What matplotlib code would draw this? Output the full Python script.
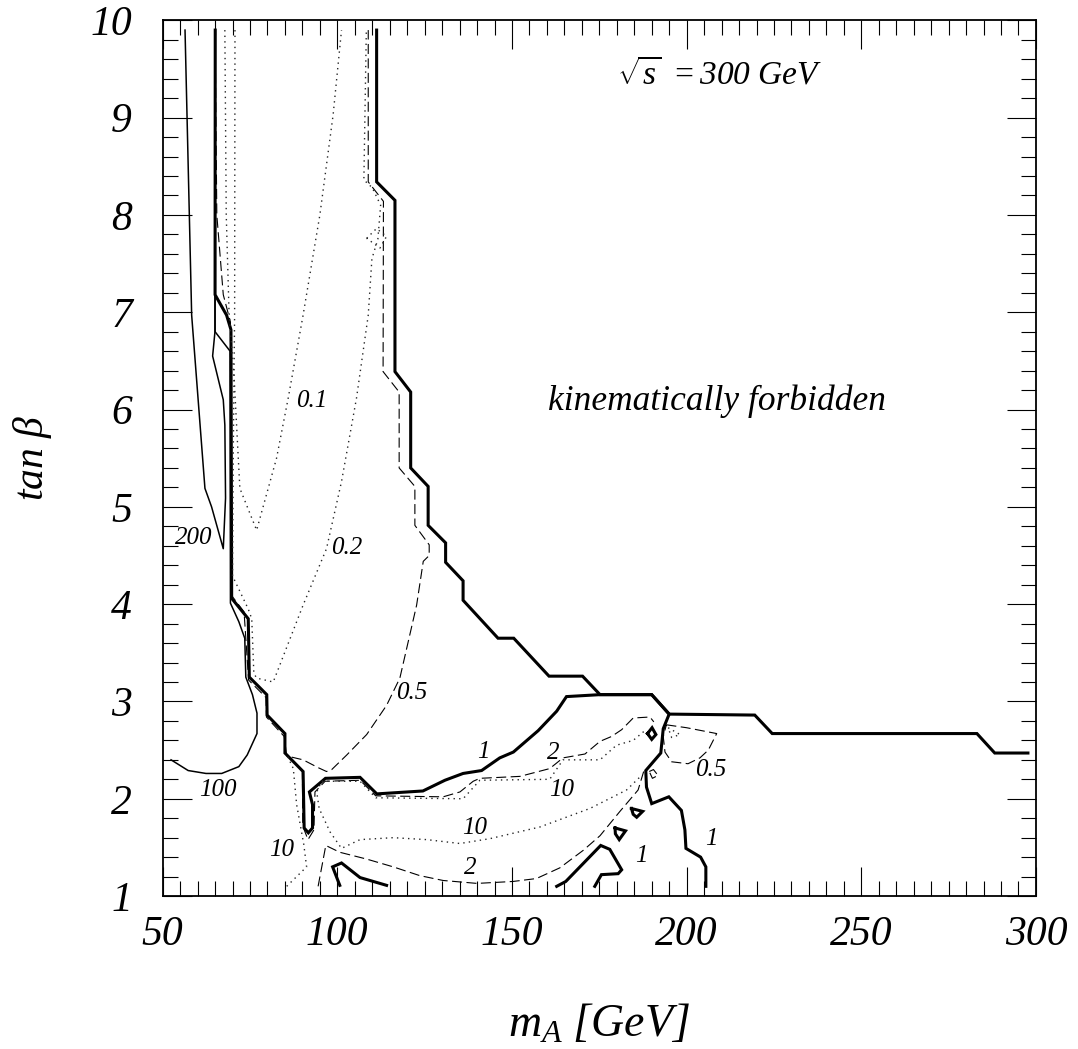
import numpy as np
import matplotlib.pyplot as plt
from matplotlib.ticker import MultipleLocator

plt.rcParams['font.family'] = 'Liberation Serif'
plt.rcParams['font.style'] = 'italic'
plt.rcParams['mathtext.fontset'] = 'custom'
plt.rcParams['mathtext.it'] = 'Liberation Serif:italic'
plt.rcParams['mathtext.rm'] = 'Liberation Serif'

# =============================================================================
# contour paths  (m_A [GeV], tan beta)
# =============================================================================
# sigma = 1 (thick)
c1_x = [65.05, 65.0, 68.3, 69.55, 69.75, 74.5, 74.8, 79.8, 79.9, 85.0, 85.0, 90.2,
        90.5, 91.7, 92.9, 92.9, 92.0, 96.6, 106.5, 111.3, 124.5, 130.8, 136.0, 141.3,
        146.5, 150.4, 157.5, 162.8, 165.6, 175.2, 190.0, 195.0, 193.3, 192.6, 188.3,
        188.5, 190.0, 194.9, 198.5, 199.5, 199.8, 204.0, 205.5, 205.5]
c1_y = [9.90, 7.18, 6.97, 6.82, 4.06, 3.85, 3.25, 3.07, 2.86, 2.67, 2.47, 2.28,
        1.70, 1.65, 1.70, 1.94, 2.07, 2.21, 2.22, 2.05, 2.08, 2.19, 2.26, 2.29,
        2.42, 2.48, 2.70, 2.90, 3.05, 3.07, 3.07, 2.87, 2.72, 2.47, 2.29,
        2.12, 1.95, 2.02, 1.88, 1.68, 1.49, 1.40, 1.30, 1.10]
c1b_x = [100.7, 98.65, 101.2, 106.5, 114.1]
c1b_y = [1.11, 1.30, 1.34, 1.19, 1.11]
c1c_x = [162.8, 165.4, 175.4, 178.0, 181.4, 180.4, 175.6, 173.7]
c1c_y = [1.10, 1.15, 1.52, 1.48, 1.27, 1.23, 1.22, 1.10]
c1d_x = [179.5, 182.5, 180.7, 179.6, 179.5]
c1d_y = [1.70, 1.67, 1.58, 1.64, 1.70]
c1e_x = [184.2, 187.4, 185.7, 184.7, 184.2]
c1e_y = [1.90, 1.87, 1.81, 1.84, 1.90]
c1f_x = [188.8, 190.1, 191.2, 190.0, 188.8]
c1f_y = [2.67, 2.73, 2.66, 2.61, 2.67]

# kinematic limit (thick)
kin_x = [111.25, 111.25, 116.5, 116.5, 121.0, 121.0, 126.0, 126.0, 131.0, 131.0,
         136.0, 136.0, 146.0, 150.5, 160.6, 170.2, 175.2, 190.0, 195.0, 219.5,
         224.5, 283.1, 288.2, 297.7]
kin_y = [9.90, 8.34, 8.15, 6.39, 6.18, 5.40, 5.21, 4.81, 4.63, 4.43,
         4.24, 4.04, 3.65, 3.65, 3.26, 3.26, 3.07, 3.07, 2.87, 2.86,
         2.67, 2.67, 2.47, 2.47]

# sigma = 200, 100 (thin solid)
c200_x = [56.4, 58.3, 62.1, 64.0, 67.35, 68.0, 67.8, 67.35, 64.3, 64.97, 65.0]
c200_y = [9.90, 6.97, 5.19, 5.00, 4.57, 5.09, 5.84, 6.10, 6.55, 6.80, 9.90]
c100_x = [52.4, 57.3, 62.4, 66.9, 71.8, 74.2, 77.0, 77.0, 75.7, 73.8, 73.5, 71.8,
          69.4, 69.3, 65.0, 65.0]
c100_y = [2.40, 2.29, 2.26, 2.26, 2.33, 2.45, 2.67, 2.88, 3.07, 3.25, 3.65, 3.82,
          4.01, 6.60, 6.80, 9.90]

# sigma = 0.5, 2 (dashed)
c05_x = [65.0, 65.5, 67.35, 69.4, 69.5, 73.3, 74.6, 79.6, 79.7, 84.8, 85.5, 90.2,
         94.5, 96.9, 98.4, 102.7, 108.4, 114.1, 117.9, 122.7, 124.6, 126.3, 126.3,
         122.2, 122.2, 117.7, 117.7, 113.1, 113.2, 108.85, 108.85]
c05_y = [9.90, 8.00, 7.18, 6.90, 4.10, 3.92, 3.22, 3.04, 2.84, 2.64, 2.44, 2.40,
         2.32, 2.28, 2.30, 2.45, 2.66, 2.96, 3.24, 3.99, 4.44, 4.50, 4.61,
         4.81, 5.21, 5.40, 6.18, 6.39, 8.14, 8.34, 9.90]
c05b_x = [194.2, 200.0, 208.6, 206.2, 203.8, 200.4, 195.7, 193.8, 193.3, 194.2]
c05b_y = [2.76, 2.73, 2.67, 2.50, 2.42, 2.36, 2.38, 2.48, 2.64, 2.76]
c05c_x = [189.3, 190.5, 191.8, 190.2, 189.3]
c05c_y = [2.28, 2.30, 2.24, 2.21, 2.28]
c2_x = [90.0, 90.1, 91.6, 93.3, 93.6, 96.5, 106.5, 111.0, 130.3, 135.1, 138.9,
        140.8, 152.3, 160.8, 164.6, 170.9, 175.2, 178.5, 181.4, 184.7, 189.5, 190.6]
c2_y = [2.30, 1.72, 1.58, 1.68, 2.07, 2.18, 2.19, 2.03, 2.02, 2.07, 2.18,
        2.21, 2.23, 2.31, 2.42, 2.46, 2.59, 2.64, 2.71, 2.83, 2.84, 2.79]
c2b_x = [94.5, 96.7, 100.7, 108.4, 116.0, 123.6, 130.3, 140.0, 150.3, 157.0,
         163.7, 170.4, 175.2, 180.9, 186.1, 187.7]
c2b_y = [1.10, 1.52, 1.45, 1.38, 1.30, 1.21, 1.16, 1.13, 1.15, 1.18,
         1.29, 1.47, 1.62, 1.87, 2.09, 2.28]

# sigma = 0.1, 0.2, 10 (dotted)
c01_x = [67.8, 68.2, 69.0, 70.5, 71.5, 72.1, 76.9, 82.6, 85.95, 90.2, 95.0, 98.8, 101.2]
c01_y = [9.90, 8.00, 7.00, 6.30, 5.60, 5.19, 4.76, 5.50, 6.12, 6.97, 8.00, 9.03, 9.90]
c02_x = [70.7, 70.6, 70.2, 70.0, 74.5, 75.5, 76.1, 76.9, 81.65, 90.2, 96.9, 101.2,
         105.5, 108.85, 109.9, 111.6, 112.4, 110.0, 107.6, 108.3]
c02_y = [9.90, 7.00, 5.50, 4.29, 3.95, 3.85, 3.29, 3.24, 3.20, 3.99, 4.57, 5.26,
         6.12, 6.97, 7.55, 7.75, 8.10, 8.28, 8.36, 9.90]
c02b_x = [108.4, 111.2, 114.1, 112.2, 108.4]
c02b_y = [7.76, 7.86, 7.78, 7.66, 7.76]
c10_x = [187.7, 184.7, 179.9, 175.2, 164.6, 160.8, 140.8, 136.0, 111.0, 106.5, 95.5,
         94.1, 94.8, 97.9, 101.2, 106.5, 116.0, 125.6, 135.1, 143.7, 158.0, 172.3,
         182.8, 187.1]
c10_y = [2.69, 2.60, 2.55, 2.40, 2.40, 2.20, 2.19, 2.00, 2.01, 2.18, 2.18,
         2.07, 1.90, 1.66, 1.49, 1.58, 1.60, 1.58, 1.54, 1.59, 1.71, 1.90,
         2.09, 2.24]
c10b_x = [85.5, 91.2, 90.4, 88.35, 87.4, 85.7]
c10b_y = [1.10, 1.30, 1.53, 1.94, 2.31, 2.44]
c10c_x = [194.7, 198.1, 195.7, 194.7]
c10c_y = [2.73, 2.66, 2.63, 2.73]

# contour labels
lab_txt = ['200', '100', '0.1', '0.2', '0.5', '1', '2', '10', '10', '2', '10', '1', '1', '0.5']
lab_x = [58.8, 65.9, 92.6, 102.8, 121.4, 141.8, 161.8, 164.2, 139.4, 138.0, 84.05, 187.1, 207.1, 206.8]
lab_y = [4.68, 2.09, 6.09, 4.58, 3.09, 2.48, 2.47, 2.09, 1.70, 1.29, 1.47, 1.41, 1.59, 2.30]

# =============================================================================
# figure
# =============================================================================
fig = plt.figure(figsize=(10.78, 10.49), dpi=100)
ax = fig.add_axes([0.1509, 0.1458, 0.8101, 0.8348])

thick = dict(color='black', lw=2.2, solid_joinstyle='miter')
thin = dict(color='black', lw=1.1)
dash = dict(color='black', lw=0.8, linestyle=(0, (9, 4)))
dots = dict(color='0.15', lw=1.0, linestyle=(0, (1, 3)))

for xs, ys in [(c1_x, c1_y), (c1b_x, c1b_y), (c1c_x, c1c_y), (c1d_x, c1d_y),
               (c1e_x, c1e_y), (c1f_x, c1f_y), (kin_x, kin_y)]:
    ax.plot(xs, ys, **thick)
for xs, ys in [(c200_x, c200_y), (c100_x, c100_y)]:
    ax.plot(xs, ys, **thin)
for xs, ys in [(c05_x, c05_y), (c05b_x, c05b_y), (c05c_x, c05c_y),
               (c2_x, c2_y), (c2b_x, c2b_y)]:
    ax.plot(xs, ys, **dash)
for xs, ys in [(c01_x, c01_y), (c02_x, c02_y), (c02b_x, c02b_y),
               (c10_x, c10_y), (c10b_x, c10b_y), (c10c_x, c10c_y)]:
    ax.plot(xs, ys, **dots)

for t, x, y in zip(lab_txt, lab_x, lab_y):
    ax.text(x, y, t, fontsize=18, ha='center', va='center')

ax.text(180.0, 9.35, r'$\sqrt{s}\ =300\ GeV$', fontsize=24, ha='left', va='baseline')
ax.text(160.3, 6.0, 'kinematically forbidden', fontsize=25.5, ha='left', va='baseline')

ax.set_xlim(50, 300)
ax.set_ylim(1, 10)
ax.xaxis.set_major_locator(MultipleLocator(50))
ax.xaxis.set_minor_locator(MultipleLocator(5))
ax.yaxis.set_major_locator(MultipleLocator(1))
ax.yaxis.set_minor_locator(MultipleLocator(0.2))
ax.tick_params(which='both', direction='in', top=True, right=True, width=0.8)
ax.tick_params(which='major', length=21)
ax.tick_params(which='minor', length=10.5)
ax.tick_params(axis='x', which='major', labelsize=30, pad=14)
ax.tick_params(axis='y', which='major', labelsize=30, pad=22)
for s in ax.spines.values():
    s.set_linewidth(1.3)

ax.set_xlabel(r'$m_A\ [GeV]$', fontsize=33)
ax.set_ylabel(r'$tan\ \mathrm{\beta}$', fontsize=30)
ax.xaxis.set_label_coords(0.5, -0.123)
ax.yaxis.set_label_coords(-0.125, 0.5)

fig.savefig('out.png', dpi=100)
